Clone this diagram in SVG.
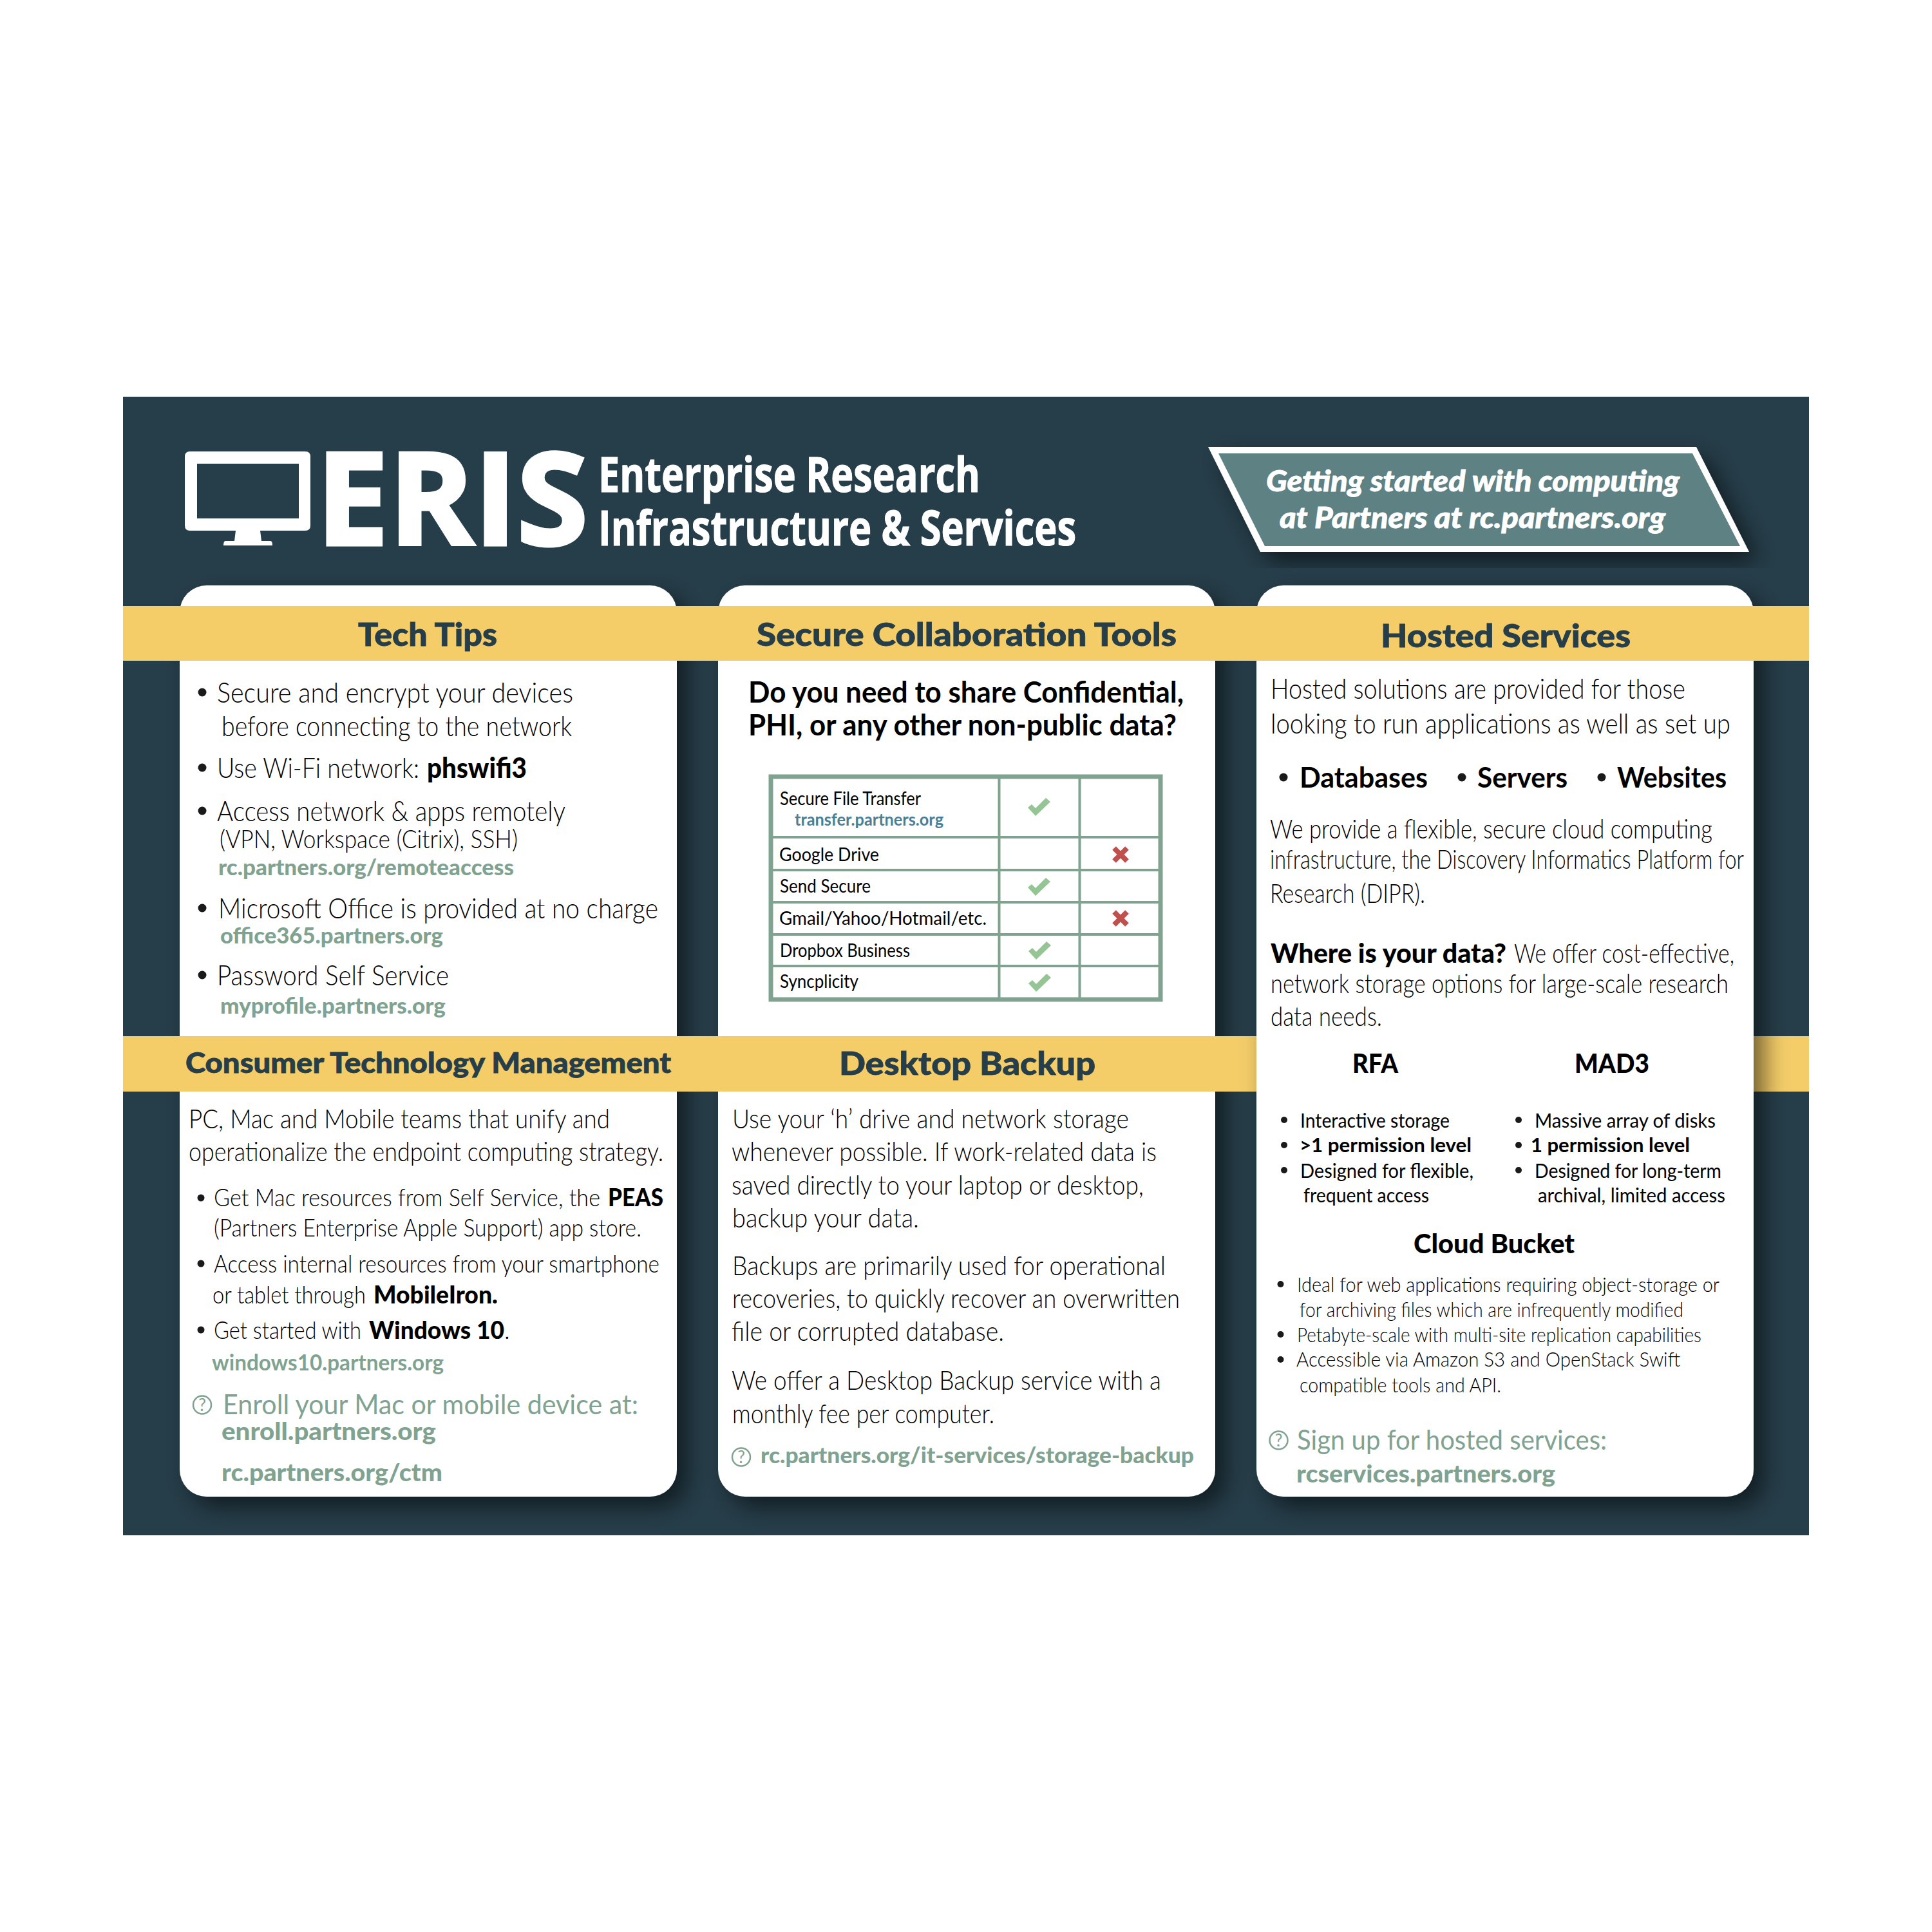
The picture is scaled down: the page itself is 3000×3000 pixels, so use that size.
<svg xmlns="http://www.w3.org/2000/svg" xmlns:xlink="http://www.w3.org/1999/xlink" width="3000" height="3000" viewBox="0 0 3000 3000">
<style>
text{font-family:Lato,"Liberation Sans",sans-serif;fill:#000}
.l{font-weight:300}
.b{font-weight:700}
.k{font-weight:900}
.h{font-weight:900;fill:#263e4a;stroke:#263e4a;stroke-width:.8}
.g{font-weight:400;fill:#7fa390}
.u{font-weight:900;fill:#7fa390}
.t{font-weight:400}
.nw{font-family:"Open Sans","Liberation Sans",sans-serif;font-weight:700;fill:#fff;stroke:#fff;stroke-width:1.2}
.d{fill:#1a1a1a}
.bn{font-weight:900;font-style:italic;fill:#fff;stroke:#fff;stroke-width:.8}
.y{fill:#f4cd69}
.card{fill:#fff}
.tl{stroke:#7fa390;fill:none}
</style>
<defs>
<filter id="sh" x="-10%" y="-10%" width="125%" height="125%"><feDropShadow dx="16" dy="16" stdDeviation="18" flood-color="#000" flood-opacity="0.55"/></filter>
<path id="ck" d="M-17,1L-11,-4L-5,2L11,-14L18,-8L-5,14Z" fill="#95c594"/>
<path id="xx" d="M-10,-10L10,10M10,-10L-10,10" stroke="#c0504d" stroke-width="8" fill="none"/>
</defs>
<rect width="3000" height="3000" fill="#fff"/>
<rect id="background" x="191" y="616" width="2618" height="1768" fill="#263e4a"/>
<g id="logo">
<path fill="#fff" fill-rule="evenodd" d="M295,701H474Q482,701 482,709V816Q482,824 474,824H404L406,840H420Q423,840 423,847H347Q347,840 350,840H364L366,824H295Q287,824 287,816V709Q287,701 295,701ZM306,720V805H464V720Z"/>
<text class="nw" x="491" y="846" font-size="199" style="stroke-width:5" textLength="422" lengthAdjust="spacingAndGlyphs">ERIS</text>
<text class="nw" x="929" y="764" font-size="75" textLength="593" lengthAdjust="spacingAndGlyphs">Enterprise Research</text>
<text class="nw" x="929" y="847" font-size="75" textLength="742" lengthAdjust="spacingAndGlyphs">Infrastructure &amp; Services</text>
</g>
<g id="banner">
<path d="M1876,694H2634L2716,857H1957Z" fill="#fff" filter="url(#sh)"/>
<path d="M1892,704H2628L2702,848H1964Z" fill="#5e8184"/>
<text class="bn" x="1966" y="763" font-size="46" textLength="642" lengthAdjust="spacingAndGlyphs">Getting started with computing</text>
<text class="bn" x="1987" y="820" font-size="46" textLength="599" lengthAdjust="spacingAndGlyphs">at Partners at rc.partners.org</text>
</g>
<rect class="card" id="card1" x="279" y="909" width="772" height="1415" rx="42" filter="url(#sh)"/>
<rect class="card" id="card2" x="1115" y="909" width="772" height="1415" rx="42" filter="url(#sh)"/>
<rect class="y" x="191" y="1609" width="1800" height="86"/>
<rect class="y" x="2700" y="1609" width="109" height="86"/>
<rect class="card" id="card3" x="1951" y="909" width="772" height="1415" rx="42" filter="url(#sh)"/>
<rect class="y" x="191" y="941" width="2618" height="85"/>
<g id="tech-tips">
<text class="h" x="556" y="1003" font-size="50" textLength="216" lengthAdjust="spacingAndGlyphs">Tech Tips</text>
<circle class="d" cx="314" cy="1075" r="6.5"/>
<text class="l" x="337" y="1091" font-size="43" textLength="553" lengthAdjust="spacingAndGlyphs">Secure and encrypt your devices</text>
<text class="l" x="344" y="1143" font-size="43" textLength="544" lengthAdjust="spacingAndGlyphs">before connecting to the network</text>
<circle class="d" cx="314" cy="1192" r="6.5"/>
<text class="l" y="1208" font-size="43"><tspan x="337" textLength="314" lengthAdjust="spacingAndGlyphs">Use Wi-Fi network:</tspan> <tspan class="k" x="663" textLength="155" lengthAdjust="spacingAndGlyphs">phswifi3</tspan></text>
<circle class="d" cx="314" cy="1259" r="6.5"/>
<text class="l" x="337" y="1275" font-size="43" textLength="541" lengthAdjust="spacingAndGlyphs">Access network &amp; apps remotely</text>
<text class="l" x="341" y="1317" font-size="39" textLength="463" lengthAdjust="spacingAndGlyphs">(VPN, Workspace (Citrix), SSH)</text>
<text class="u" x="339" y="1359" font-size="35" textLength="459" lengthAdjust="spacingAndGlyphs">rc.partners.org/remoteaccess</text>
<circle class="d" cx="314" cy="1410" r="6.5"/>
<text class="l" x="339" y="1426" font-size="43" textLength="683" lengthAdjust="spacingAndGlyphs">Microsoft Office is provided at no charge</text>
<text class="u" x="342" y="1465" font-size="35" textLength="346" lengthAdjust="spacingAndGlyphs">office365.partners.org</text>
<circle class="d" cx="314" cy="1514" r="6.5"/>
<text class="l" x="337" y="1530" font-size="43" textLength="360" lengthAdjust="spacingAndGlyphs">Password Self Service</text>
<text class="u" x="342" y="1574" font-size="35" textLength="350" lengthAdjust="spacingAndGlyphs">myprofile.partners.org</text>
</g>
<g id="secure-collaboration">
<text class="h" x="1175" y="1003" font-size="50" textLength="652" lengthAdjust="spacingAndGlyphs">Secure Collaboration Tools</text>
<text class="b" x="1162" y="1091" font-size="46" textLength="676" lengthAdjust="spacingAndGlyphs">Do you need to share Confidential,</text>
<text class="b" x="1162" y="1142" font-size="46" textLength="665" lengthAdjust="spacingAndGlyphs">PHI, or any other non-public data?</text>
<g id="table">
<rect class="tl" x="1197" y="1206" width="605" height="346" stroke-width="7"/>
<path class="tl" stroke-width="4" d="M1551.500,1206V1552M1676.500,1206V1552M1197,1300H1802M1197,1351H1802M1197,1401H1802M1197,1451H1802M1197,1500H1802"/>
<text class="t" x="1211" y="1250" font-size="28" textLength="219" lengthAdjust="spacingAndGlyphs">Secure File Transfer</text>
<text class="b" x="1234" y="1282" font-size="26" style="fill:#4a7f97" textLength="231" lengthAdjust="spacingAndGlyphs">transfer.partners.org</text>
<text class="t" x="1210" y="1337" font-size="28" textLength="155" lengthAdjust="spacingAndGlyphs">Google Drive</text>
<text class="t" x="1211" y="1386" font-size="28" textLength="141" lengthAdjust="spacingAndGlyphs">Send Secure</text>
<text class="t" x="1210" y="1436" font-size="28" textLength="322" lengthAdjust="spacingAndGlyphs">Gmail/Yahoo/Hotmail/etc.</text>
<text class="t" x="1211" y="1486" font-size="28" textLength="202" lengthAdjust="spacingAndGlyphs">Dropbox Business</text>
<text class="t" x="1211" y="1534" font-size="28" textLength="122" lengthAdjust="spacingAndGlyphs">Syncplicity</text>
<use href="#ck" x="1613" y="1253"/><use href="#ck" x="1613" y="1377"/><use href="#ck" x="1614" y="1476"/><use href="#ck" x="1614" y="1526"/>
<use href="#xx" x="1740" y="1327"/><use href="#xx" x="1740" y="1426"/>
</g>
</g>
<g id="hosted-services">
<text class="h" x="2144" y="1005" font-size="50" textLength="388" lengthAdjust="spacingAndGlyphs">Hosted Services</text>
<text class="l" x="1973" y="1085" font-size="43" textLength="644" lengthAdjust="spacingAndGlyphs">Hosted solutions are provided for those</text>
<text class="l" x="1973" y="1139" font-size="43" textLength="714" lengthAdjust="spacingAndGlyphs">looking to run applications as well as set up</text>
<circle class="d" cx="1993" cy="1207" r="6.5"/><circle class="d" cx="2270" cy="1207" r="6.5"/><circle class="d" cx="2487" cy="1207" r="6.5"/>
<text class="b" x="2018" y="1223" font-size="44" textLength="199" lengthAdjust="spacingAndGlyphs">Databases</text>
<text class="b" x="2294" y="1223" font-size="44" textLength="140" lengthAdjust="spacingAndGlyphs">Servers</text>
<text class="b" x="2511" y="1223" font-size="44" textLength="170" lengthAdjust="spacingAndGlyphs">Websites</text>
<text class="l" x="1972" y="1302" font-size="41" textLength="687" lengthAdjust="spacingAndGlyphs">We provide a flexible, secure cloud computing</text>
<text class="l" x="1972" y="1349" font-size="41" textLength="736" lengthAdjust="spacingAndGlyphs">infrastructure, the Discovery Informatics Platform for</text>
<text class="l" x="1972" y="1402" font-size="41" textLength="241" lengthAdjust="spacingAndGlyphs">Research (DIPR).</text>
<text class="l" y="1495" font-size="41"><tspan class="k" x="1973" textLength="366" lengthAdjust="spacingAndGlyphs">Where is your data?</tspan> <tspan x="2351" textLength="342" lengthAdjust="spacingAndGlyphs">We offer cost-effective,</tspan></text>
<text class="l" x="1973" y="1542" font-size="41" textLength="711" lengthAdjust="spacingAndGlyphs">network storage options for large-scale research</text>
<text class="l" x="1973" y="1593" font-size="41" textLength="173" lengthAdjust="spacingAndGlyphs">data needs.</text>
<text class="k" x="2100" y="1666" font-size="41" textLength="71" lengthAdjust="spacingAndGlyphs">RFA</text>
<text class="k" x="2445" y="1666" font-size="41" textLength="116" lengthAdjust="spacingAndGlyphs">MAD3</text>
<circle class="d" cx="1994" cy="1739" r="5"/><circle class="d" cx="1994" cy="1778" r="5"/><circle class="d" cx="1994" cy="1817" r="5"/>
<circle class="d" cx="2358" cy="1739" r="5"/><circle class="d" cx="2358" cy="1778" r="5"/><circle class="d" cx="2358" cy="1817" r="5"/>
<text class="t" x="2019" y="1751" font-size="31" textLength="232" lengthAdjust="spacingAndGlyphs">Interactive storage</text>
<text class="b" x="2018" y="1789" font-size="31" textLength="267" lengthAdjust="spacingAndGlyphs">&gt;1 permission level</text>
<text class="t" x="2019" y="1829" font-size="31" textLength="269" lengthAdjust="spacingAndGlyphs">Designed for flexible,</text>
<text class="t" x="2024" y="1867" font-size="31" textLength="195" lengthAdjust="spacingAndGlyphs">frequent access</text>
<text class="t" x="2383" y="1751" font-size="31" textLength="281" lengthAdjust="spacingAndGlyphs">Massive array of disks</text>
<text class="b" x="2377" y="1789" font-size="31" textLength="247" lengthAdjust="spacingAndGlyphs">1 permission level</text>
<text class="t" x="2383" y="1829" font-size="31" textLength="290" lengthAdjust="spacingAndGlyphs">Designed for long-term</text>
<text class="t" x="2388" y="1867" font-size="31" textLength="291" lengthAdjust="spacingAndGlyphs">archival, limited access</text>
<text class="k" x="2195" y="1946" font-size="41" textLength="250" lengthAdjust="spacingAndGlyphs">Cloud Bucket</text>
<circle class="d" cx="1988.500" cy="1994" r="5"/><circle class="d" cx="1988.500" cy="2072" r="5"/><circle class="d" cx="1988.500" cy="2111" r="5"/>
<text class="l" x="2014" y="2006" font-size="31" textLength="656" lengthAdjust="spacingAndGlyphs">Ideal for web applications requiring object-storage or</text>
<text class="l" x="2018" y="2045" font-size="31" textLength="596" lengthAdjust="spacingAndGlyphs">for archiving files which are infrequently modified</text>
<text class="l" x="2014" y="2084" font-size="31" textLength="628" lengthAdjust="spacingAndGlyphs">Petabyte-scale with multi-site replication capabilities</text>
<text class="l" x="2013" y="2122" font-size="31" textLength="596" lengthAdjust="spacingAndGlyphs">Accessible via Amazon S3 and OpenStack Swift</text>
<text class="l" x="2018" y="2162" font-size="31" textLength="313" lengthAdjust="spacingAndGlyphs">compatible tools and API.</text>
<circle cx="1985.500" cy="2236.500" r="14" fill="none" stroke="#7fa390" stroke-width="2.500"/>
<text class="g" x="1985.500" y="2246" font-size="26" text-anchor="middle">?</text>
<text class="g" x="2014" y="2251" font-size="43" textLength="481" lengthAdjust="spacingAndGlyphs">Sign up for hosted services:</text>
<text class="u" x="2013" y="2302" font-size="38" textLength="402" lengthAdjust="spacingAndGlyphs">rcservices.partners.org</text>
</g>
<g id="consumer-tech">
<text class="h" x="288" y="1666" font-size="44" textLength="754" lengthAdjust="spacingAndGlyphs">Consumer Technology Management</text>
<text class="l" x="293" y="1752" font-size="41" textLength="654" lengthAdjust="spacingAndGlyphs">PC, Mac and Mobile teams that unify and</text>
<text class="l" x="293" y="1803" font-size="41" textLength="737" lengthAdjust="spacingAndGlyphs">operationalize the endpoint computing strategy.</text>
<circle class="d" cx="312" cy="1860" r="5.500"/><circle class="d" cx="312" cy="1962" r="5.500"/><circle class="d" cx="312" cy="2065" r="5.500"/>
<text class="l" y="1873" font-size="37"><tspan x="332" textLength="600" lengthAdjust="spacingAndGlyphs">Get Mac resources from Self Service, the</tspan> <tspan class="k" x="944" textLength="86" lengthAdjust="spacingAndGlyphs">PEAS</tspan></text>
<text class="l" x="332" y="1920" font-size="37" textLength="664" lengthAdjust="spacingAndGlyphs">(Partners Enterprise Apple Support) app store.</text>
<text class="l" x="332" y="1976" font-size="37" textLength="692" lengthAdjust="spacingAndGlyphs">Access internal resources from your smartphone</text>
<text class="l" y="2024" font-size="37"><tspan x="330" textLength="238" lengthAdjust="spacingAndGlyphs">or tablet through</tspan> <tspan class="k" x="580" textLength="193" lengthAdjust="spacingAndGlyphs">MobileIron.</tspan></text>
<text class="l" y="2079" font-size="37"><tspan x="332" textLength="229" lengthAdjust="spacingAndGlyphs">Get started with</tspan> <tspan class="k" x="573" textLength="210" lengthAdjust="spacingAndGlyphs">Windows 10</tspan><tspan x="783">.</tspan></text>
<text class="u" style="font-weight:700" x="329" y="2128" font-size="35" textLength="360" lengthAdjust="spacingAndGlyphs">windows10.partners.org</text>
<circle cx="314" cy="2181.500" r="14" fill="none" stroke="#7fa390" stroke-width="2.500"/>
<text class="g" x="314" y="2191" font-size="26" text-anchor="middle">?</text>
<text class="g" x="346" y="2196" font-size="43" textLength="645" lengthAdjust="spacingAndGlyphs">Enroll your Mac or mobile device at:</text>
<text class="u" x="344" y="2236" font-size="38" textLength="333" lengthAdjust="spacingAndGlyphs">enroll.partners.org</text>
<text class="u" x="344" y="2300" font-size="38" textLength="343" lengthAdjust="spacingAndGlyphs">rc.partners.org/ctm</text>
</g>
<g id="desktop-backup">
<text class="h" x="1303" y="1669" font-size="50" textLength="398" lengthAdjust="spacingAndGlyphs">Desktop Backup</text>
<text class="l" x="1137" y="1752" font-size="41" textLength="616" lengthAdjust="spacingAndGlyphs">Use your ‘h’ drive and network storage</text>
<text class="l" x="1136" y="1803" font-size="41" textLength="660" lengthAdjust="spacingAndGlyphs">whenever possible. If work-related data is</text>
<text class="l" x="1136" y="1855" font-size="41" textLength="640" lengthAdjust="spacingAndGlyphs">saved directly to your laptop or desktop,</text>
<text class="l" x="1137" y="1906" font-size="41" textLength="290" lengthAdjust="spacingAndGlyphs">backup your data.</text>
<text class="l" x="1137" y="1980" font-size="41" textLength="673" lengthAdjust="spacingAndGlyphs">Backups are primarily used for operational</text>
<text class="l" x="1137" y="2031" font-size="41" textLength="695" lengthAdjust="spacingAndGlyphs">recoveries, to quickly recover an overwritten</text>
<text class="l" x="1136" y="2082" font-size="41" textLength="423" lengthAdjust="spacingAndGlyphs">file or corrupted database.</text>
<text class="l" x="1136" y="2158" font-size="41" textLength="667" lengthAdjust="spacingAndGlyphs">We offer a Desktop Backup service with a</text>
<text class="l" x="1137" y="2210" font-size="41" textLength="407" lengthAdjust="spacingAndGlyphs">monthly fee per computer.</text>
<circle cx="1151" cy="2262.500" r="14" fill="none" stroke="#7fa390" stroke-width="2.500"/>
<text class="g" x="1151" y="2272" font-size="26" text-anchor="middle">?</text>
<text class="u" x="1181" y="2272" font-size="34" textLength="673" lengthAdjust="spacingAndGlyphs">rc.partners.org/it-services/storage-backup</text>
</g>
</svg>
